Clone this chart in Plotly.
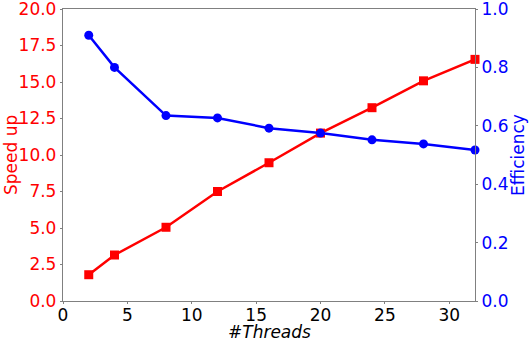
import plotly.graph_objects as go

threads = [2, 4, 8, 12, 16, 20, 24, 28, 32]
speedup = [1.8, 3.15, 5.05, 7.5, 9.47, 11.5, 13.24, 15.08, 16.55]
efficiency = [0.91, 0.80, 0.635, 0.627, 0.592, 0.575, 0.552, 0.538, 0.517]

FONT = "DejaVu Sans"
FS = 17

fig = go.Figure()
fig.add_trace(go.Scatter(x=threads, y=speedup, mode="lines+markers",
                         line=dict(color="#ff0000", width=2.5),
                         marker=dict(symbol="square", size=9, color="#ff0000"),
                         yaxis="y", showlegend=False, cliponaxis=False))
fig.add_trace(go.Scatter(x=threads, y=efficiency, mode="lines+markers",
                         line=dict(color="#0000ff", width=2.5),
                         marker=dict(symbol="circle", size=9, color="#0000ff"),
                         yaxis="y2", showlegend=False, cliponaxis=False))

axis_common = dict(showgrid=False, zeroline=False, showline=True, linecolor="#808080",
                   linewidth=1.3, ticks="outside", ticklen=2, tickwidth=1,
                   tickcolor="#808080", automargin=False, ticklabeloverflow="allow")

fig.update_layout(
    width=529, height=341,
    margin=dict(l=63, r=54, t=9, b=40),
    plot_bgcolor="white", paper_bgcolor="white",
    font=dict(family=FONT, size=FS),
    xaxis=dict(range=[0, 32], tickvals=[0, 5, 10, 15, 20, 25, 30], mirror=True,
               ticklabelstandoff=-4,
               tickfont=dict(color="black", size=FS), **axis_common),
    yaxis=dict(range=[0, 20], tickvals=[0, 2.5, 5, 7.5, 10, 12.5, 15, 17.5, 20],
               ticktext=["0.0", "2.5", "5.0", "7.5", "10.0", "12.5", "15.0", "17.5", "20.0"],
               tickfont=dict(color="#ff0000", size=FS), **axis_common),
    yaxis2=dict(range=[0, 1], tickvals=[0, 0.2, 0.4, 0.6, 0.8, 1.0],
                ticktext=["0.0", "0.2", "0.4", "0.6", "0.8", "1.0"],
                overlaying="y", side="right",
                tickfont=dict(color="#0000ff", size=FS), **axis_common),
    annotations=[
        dict(text="<i>#Threads</i>", xref="paper", yref="paper", x=0.5, y=-0.0,
             yshift=-31, xanchor="center", yanchor="middle", showarrow=False,
             borderpad=0, font=dict(color="black", size=FS)),
        dict(text="Speed up", xref="paper", yref="paper", x=0, y=0.5,
             xshift=-52, xanchor="center", yanchor="middle", showarrow=False,
             textangle=-90, font=dict(color="#ff0000", size=FS)),
        dict(text="Efficiency", xref="paper", yref="paper", x=1, y=0.5,
             xshift=43, xanchor="center", yanchor="middle", showarrow=False,
             textangle=-90, font=dict(color="#0000ff", size=FS)),
    ],
)

fig.write_html("out.html", config={"displayModeBar": False},
               post_script="document.body.style.margin='0';document.body.style.overflow='hidden';")
